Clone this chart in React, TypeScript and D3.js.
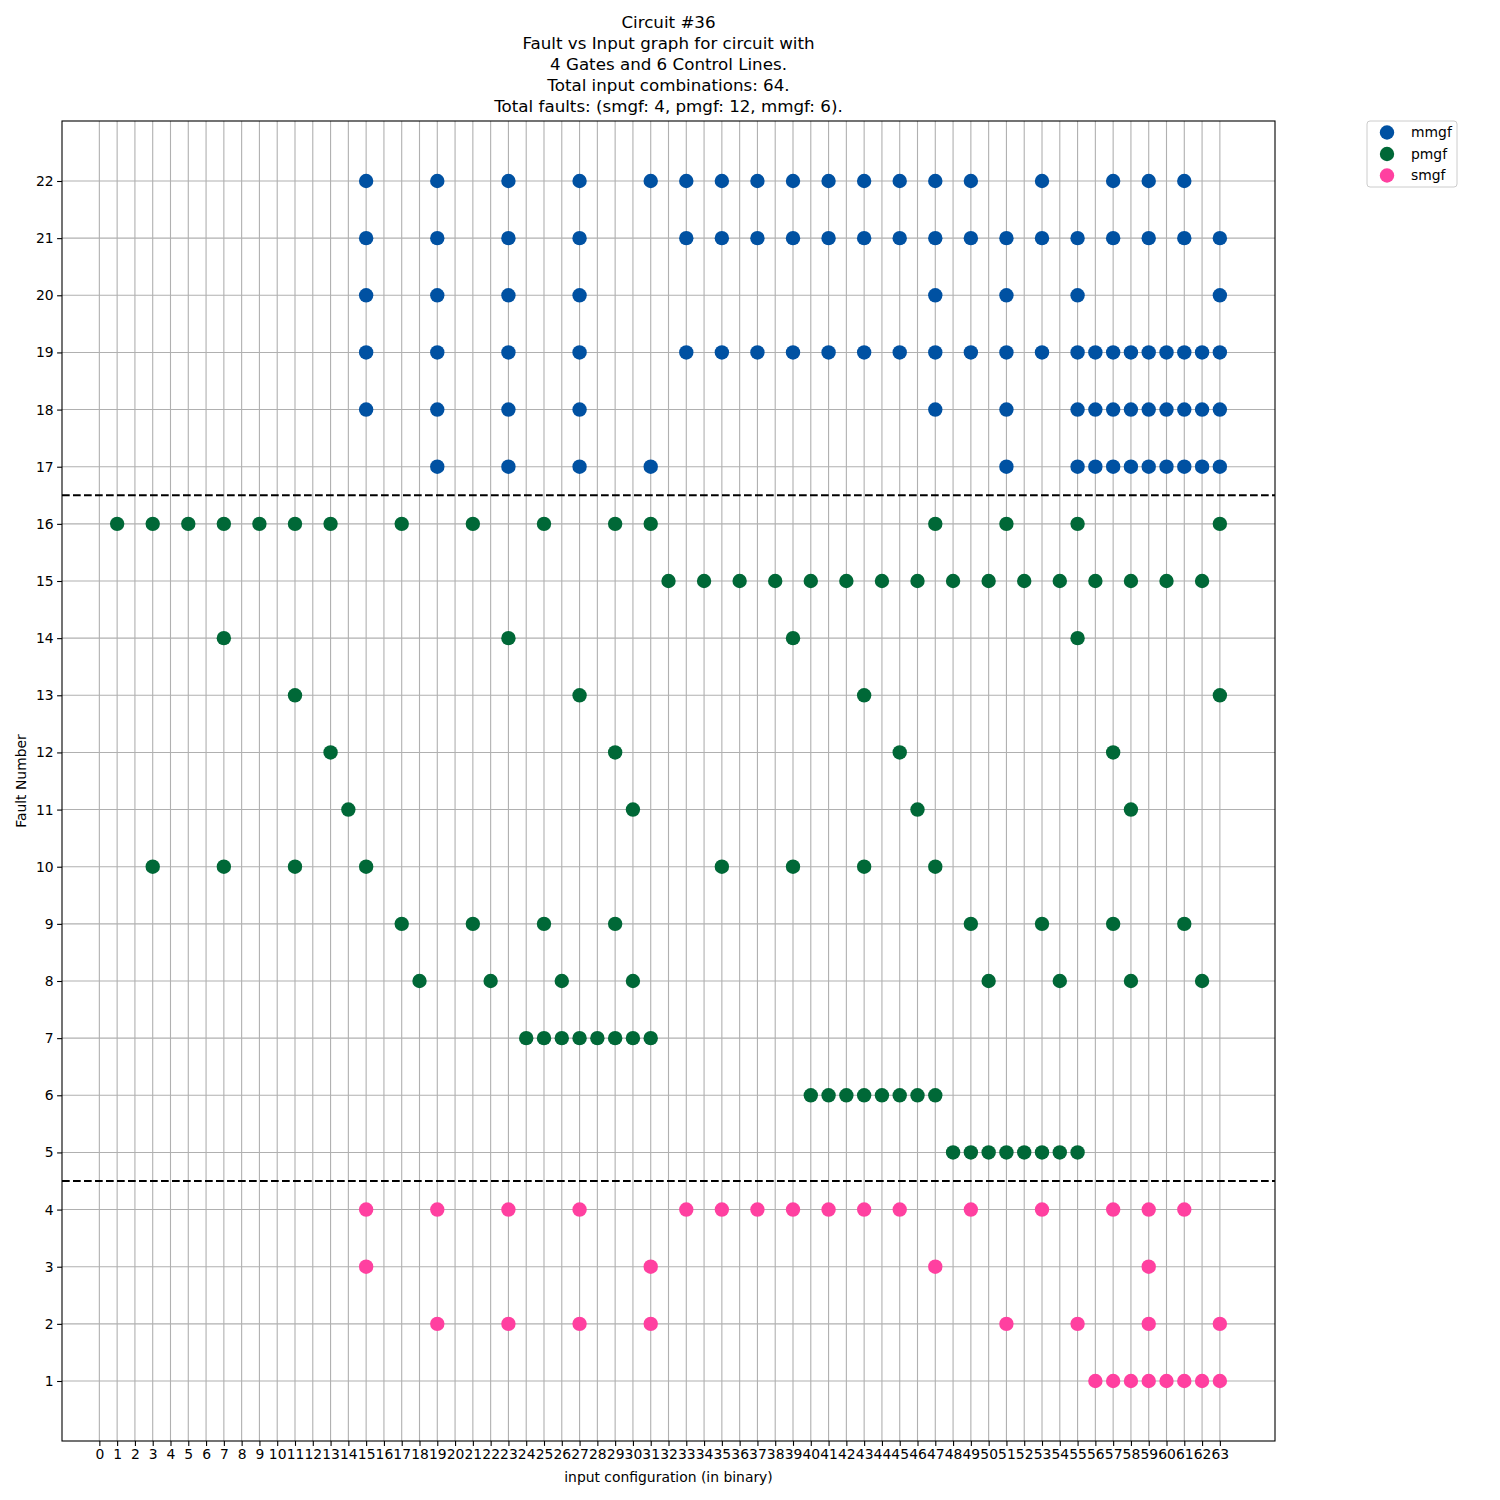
import * as d3 from "d3";
import { useRef, useEffect } from "react";

// fault number -> list of input configurations where it is detected
const mmgfRows: [number, number[]][] = [
  [22, [15, 19, 23, 27, 31, 33, 35, 37, 39, 41, 43, 45, 47, 49, 53, 57, 59, 61]],
  [21, [15, 19, 23, 27, 33, 35, 37, 39, 41, 43, 45, 47, 49, 51, 53, 55, 57, 59, 61, 63]],
  [20, [15, 19, 23, 27, 47, 51, 55, 63]],
  [19, [15, 19, 23, 27, 33, 35, 37, 39, 41, 43, 45, 47, 49, 51, 53, 55, 56, 57, 58, 59, 60, 61, 62, 63]],
  [18, [15, 19, 23, 27, 47, 51, 55, 56, 57, 58, 59, 60, 61, 62, 63]],
  [17, [19, 23, 27, 31, 51, 55, 56, 57, 58, 59, 60, 61, 62, 63]],
];

const pmgfRows: [number, number[]][] = [
  [16, [1, 3, 5, 7, 9, 11, 13, 17, 21, 25, 29, 31, 47, 51, 55, 63]],
  [15, [32, 34, 36, 38, 40, 42, 44, 46, 48, 50, 52, 54, 56, 58, 60, 62]],
  [14, [7, 23, 39, 55]],
  [13, [11, 27, 43, 63]],
  [12, [13, 29, 45, 57]],
  [11, [14, 30, 46, 58]],
  [10, [3, 7, 11, 15, 35, 39, 43, 47]],
  [9, [17, 21, 25, 29, 49, 53, 57, 61]],
  [8, [18, 22, 26, 30, 50, 54, 58, 62]],
  [7, [24, 25, 26, 27, 28, 29, 30, 31]],
  [6, [40, 41, 42, 43, 44, 45, 46, 47]],
  [5, [48, 49, 50, 51, 52, 53, 54, 55]],
];

const smgfRows: [number, number[]][] = [
  [4, [15, 19, 23, 27, 33, 35, 37, 39, 41, 43, 45, 49, 53, 57, 59, 61]],
  [3, [15, 31, 47, 59]],
  [2, [19, 23, 27, 31, 51, 55, 59, 63]],
  [1, [56, 57, 58, 59, 60, 61, 62, 63]],
];

const seriesNames = ["mmgf", "pmgf", "smgf"];
const seriesColors = ["#0051a2", "#006837", "#ff40a0"];
const xTicks = d3.range(0, 64);
const yTicks = d3.range(1, 23);
const separators = [4.5, 16.5];
const titleLines = [
  "Circuit #36",
  "Fault vs Input graph for circuit with",
  "4 Gates and 6 Control Lines.",
  "Total input combinations: 64.",
  "Total faults: (smgf: 4, pmgf: 12, mmgf: 6).",
];

export default function App() {
  const svgRef = useRef<SVGSVGElement>(null);
  const width = 1500;
  const height = 1500;
  const margin = { top: 121, right: 225, bottom: 59, left: 62 };

  useEffect(() => {
    const svg = d3.select(svgRef.current);
    svg.selectAll("*").remove();
    const font = "DejaVu Sans, sans-serif";

    const innerWidth = width - margin.left - margin.right;
    const innerHeight = height - margin.top - margin.bottom;

    const xScale = d3.scaleLinear().domain([1 - 3.1, 63 + 3.1]).range([0, innerWidth]);
    const yScale = d3.scaleLinear().domain([1 - 1.05, 22 + 1.05]).range([innerHeight, 0]);

    svg.append("rect").attr("width", width).attr("height", height).attr("fill", "white");

    const g = svg.append("g").attr("transform", `translate(${margin.left},${margin.top})`);

    // Grid
    g.append("g")
      .selectAll("line")
      .data(xTicks)
      .join("line")
      .attr("x1", (d) => xScale(d))
      .attr("x2", (d) => xScale(d))
      .attr("y1", 0)
      .attr("y2", innerHeight)
      .attr("stroke", "#b0b0b0")
      .attr("stroke-width", 1.1);
    g.append("g")
      .selectAll("line")
      .data(yTicks)
      .join("line")
      .attr("x1", 0)
      .attr("x2", innerWidth)
      .attr("y1", (d) => yScale(d))
      .attr("y2", (d) => yScale(d))
      .attr("stroke", "#b0b0b0")
      .attr("stroke-width", 1.1);

    // Separator lines
    g.append("g")
      .selectAll("line")
      .data(separators)
      .join("line")
      .attr("x1", 0)
      .attr("x2", innerWidth)
      .attr("y1", (d) => yScale(d))
      .attr("y2", (d) => yScale(d))
      .attr("stroke", "black")
      .attr("stroke-width", 2.1)
      .attr("stroke-dasharray", "7.7,3.3");

    // Points
    const allRows = [mmgfRows, pmgfRows, smgfRows];
    allRows.forEach((rows, i) => {
      const pts = rows.flatMap(([fault, xs]) => xs.map((x) => ({ x, fault })));
      g.append("g")
        .selectAll("circle")
        .data(pts)
        .join("circle")
        .attr("cx", (d) => xScale(d.x))
        .attr("cy", (d) => yScale(d.fault))
        .attr("r", 7.2)
        .attr("fill", seriesColors[i]);
    });

    // Axes
    const xAxis = g
      .append("g")
      .attr("transform", `translate(0,${innerHeight})`)
      .call(d3.axisBottom(xScale).tickValues(xTicks).tickSize(4.9).tickPadding(3.5).tickFormat(d3.format("d")));
    const yAxis = g
      .append("g")
      .call(d3.axisLeft(yScale).tickValues(yTicks).tickSize(4.9).tickPadding(3.5).tickFormat(d3.format("d")));
    [xAxis, yAxis].forEach((ax) => {
      ax.select(".domain").remove();
      ax.selectAll("line").attr("stroke", "black").attr("stroke-width", 1.1);
      ax.selectAll("text").style("font-family", font).style("font-size", "13.9px").attr("fill", "black");
    });

    // Frame
    g.append("rect")
      .attr("width", innerWidth)
      .attr("height", innerHeight)
      .attr("fill", "none")
      .attr("stroke", "black")
      .attr("stroke-width", 1.1);

    // Axis labels
    svg.append("text")
      .attr("x", margin.left + innerWidth / 2)
      .attr("y", 1482)
      .attr("text-anchor", "middle")
      .style("font-family", font)
      .style("font-size", "13.9px")
      .text("input configuration (in binary)");
    svg.append("text")
      .attr("transform", `translate(26,${margin.top + innerHeight / 2}) rotate(-90)`)
      .attr("text-anchor", "middle")
      .style("font-family", font)
      .style("font-size", "13.9px")
      .text("Fault Number");

    // Title
    svg.append("g")
      .selectAll("text")
      .data(titleLines)
      .join("text")
      .attr("x", margin.left + innerWidth / 2)
      .attr("y", (d, i) => 28 + i * 21)
      .attr("text-anchor", "middle")
      .style("font-family", font)
      .style("font-size", "16.7px")
      .text((d) => d);

    // Legend
    const legend = svg.append("g").attr("transform", `translate(1367,121)`);
    legend.append("rect")
      .attr("width", 90)
      .attr("height", 66)
      .attr("rx", 3)
      .attr("fill", "white")
      .attr("stroke", "#cccccc")
      .attr("stroke-width", 1);
    seriesNames.forEach((name, i) => {
      legend.append("circle")
        .attr("cx", 20)
        .attr("cy", 11.5 + i * 21.5)
        .attr("r", 7.2)
        .attr("fill", seriesColors[i]);
      legend.append("text")
        .attr("x", 44)
        .attr("y", 11.5 + i * 21.5)
        .attr("dy", "0.35em")
        .style("font-family", font)
        .style("font-size", "13.9px")
        .text(name);
    });
  }, []);

  return (
    <svg
      ref={svgRef}
      width={width}
      height={height}
      style={{ position: "absolute", left: 0, top: 0 }}
    ></svg>
  );
}
